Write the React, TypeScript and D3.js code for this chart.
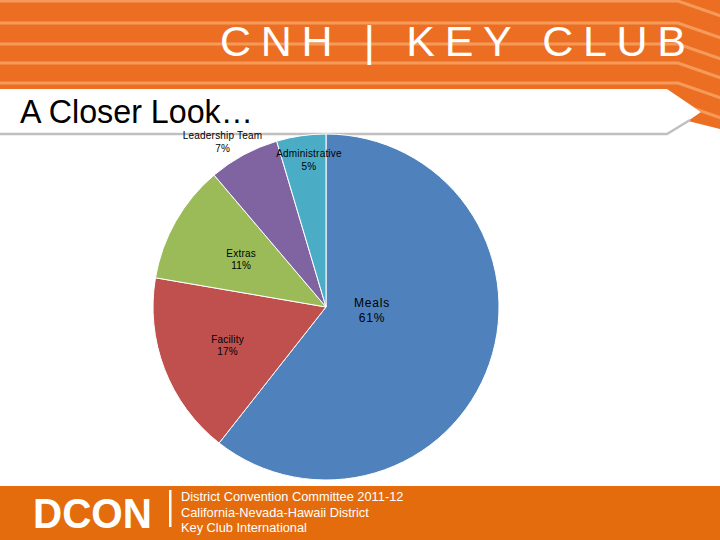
import React from "react";
import * as d3 from "d3";

const categories = ["Meals", "Facility", "Extras", "Leadership Team", "Administrative"];
const values = [60.6, 17.1, 11.1, 6.6, 4.6];
const colors = ["#4F81BD", "#C0504D", "#9BBB59", "#8064A2", "#4BACC6"];
const title = "CNH | KEY CLUB";
const subtitle = "A Closer Look…";
const footerBig = "DCON";
const footerLines = ["District Convention Committee 2011-12", "California-Nevada-Hawaii District", "Key Club International"];

// label placement: [radius factor, angle offset (deg), font size]
const labelLayout: [number, number, number][] = [
  [0.266, -16.5, 12],
  [0.61, 0, 10],
  [0.565, 0, 10],
  [1.13, -3.5, 10],
  [0.86, 1.7, 10],
];

const W = 720, H = 540;
const cx = 326, cy = 307, R = 173;

export default function App() {
  const total = d3.sum(values);
  const pie = d3.pie<number>().sort(null).value((d) => d)(values);
  const arc = d3.arc<d3.PieArcDatum<number>>().innerRadius(0).outerRadius(R);

  const orangePoly = "0,0 720,0 720,129 688,121 701,112 667,89 0,89";
  const stripeYs = [1, 23, 44, 63, 83, 103, 123];
  const slope = 0.35;
  const bendX = 678;

  return (
    <svg width={W} height={H} style={{ position: "absolute", left: 0, top: 0, background: "#fff" }}
      fontFamily="'Liberation Sans', Arial, sans-serif">
      <defs>
        <clipPath id="oclip"><polygon points={orangePoly} /></clipPath>
      </defs>
      <polygon points={orangePoly} fill="#EC6E22" />
      <g clipPath="url(#oclip)">
        {stripeYs.map((y, i) => (
          <polyline key={i} points={`0,${y} ${bendX},${y} 760,${y + slope * (760 - bendX)}`}
            fill="none" stroke="#F69A5A" strokeWidth={3} />
        ))}
      </g>
      <text x={220} y={56} fill="#fff" fontSize={43} textLength={466} lengthAdjust="spacing">{title}</text>
      <polyline points="0,134 667,134 690,120" fill="none" stroke="#C0C0C0" strokeWidth={2.5} />
      <text x={20} y={123} fill="#000" fontSize={33} textLength={233} lengthAdjust="spacingAndGlyphs">{subtitle}</text>

      <g transform={`translate(${cx},${cy})`}>
        {pie.map((p, i) => (
          <path key={i} d={arc(p) || ""} fill={colors[i]} stroke="#fff" strokeWidth={1} />
        ))}
        {pie.map((p, i) => {
          const [rf, off, fs] = labelLayout[i];
          const a = (p.startAngle + p.endAngle) / 2 + (off * Math.PI) / 180;
          const x = Math.sin(a) * R * rf;
          const y = -Math.cos(a) * R * rf;
          const pct = Math.round((p.value / total) * 100) + "%";
          return (
            <text key={"l" + i} x={x} y={y} textAnchor="middle" fontSize={fs} fill="#000"
              letterSpacing={i === 0 ? 0.8 : 0.2}>
              <tspan x={x} dy={-2}>{categories[i]}</tspan>
              <tspan x={x} dy={fs + 2.5}>{pct}</tspan>
            </text>
          );
        })}
      </g>

      <rect x={0} y={486} width={720} height={54} fill="#E46C0C" />
      <text x={33} y={528} fill="#fff" fontSize={43} fontWeight="bold" textLength={119} lengthAdjust="spacingAndGlyphs">{footerBig}</text>
      <rect x={169} y={490} width={2.5} height={37} fill="#fff" />
      {footerLines.map((t, i) => (
        <text key={i} x={181} y={501 + i * 15.5} fill="#fff" fontSize={12.8}>{t}</text>
      ))}
    </svg>
  );
}
